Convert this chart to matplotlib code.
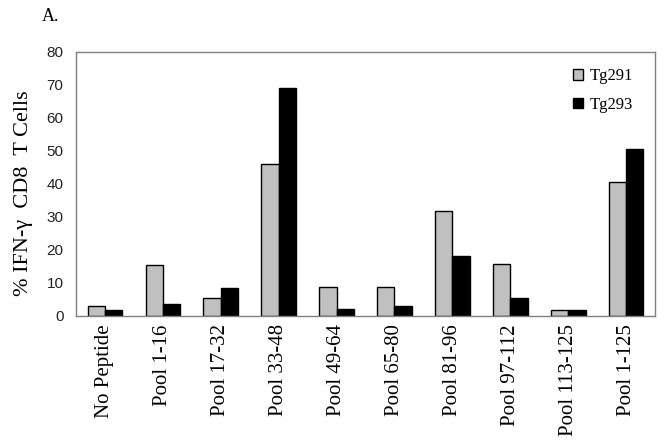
import numpy as np
from matplotlib import pyplot as plt

categorias = ["No Peptide", "Pool 1-16", "Pool 17-32", "Pool 33-48", "Pool 49-64",
              "Pool 65-80", "Pool 81-96", "Pool 97-112", "Pool 113-125", "Pool 1-125"]
tg291 = [2.9, 15.5, 5.4, 46.0, 8.8, 8.8, 31.8, 15.8, 1.7, 40.7]
tg293 = [1.7, 3.7, 8.4, 69.0, 2.0, 3.0, 18.3, 5.4, 1.7, 50.7]
yticks = [0, 10, 20, 30, 40, 50, 60, 70, 80]

serif = "Liberation Serif"
sans = "Liberation Sans"

fig = plt.figure(figsize=(6.64, 4.46), dpi=100)
ax = fig.add_axes([0.1145, 0.2915, 0.872, 0.592])

x = np.arange(len(categorias))
w = 0.3
ax.bar(x - w/2, tg291, w, color="#c0c0c0", edgecolor="black", linewidth=1, label="Tg291")
ax.bar(x + w/2, tg293, w, color="black", edgecolor="black", linewidth=1, label="Tg293")

ax.set_xlim(-0.5, len(categorias) - 0.5)
ax.set_ylim(0, 80)
ax.set_yticks(yticks)
ax.set_yticklabels([str(t) for t in yticks], fontfamily=sans, fontsize=11, color="#222222")
ax.set_xticks(x)
ax.set_xticklabels(categorias, rotation=90, fontfamily=serif, fontsize=15)
ax.tick_params(axis="x", length=0, pad=6)
ax.tick_params(axis="y", length=0, pad=9)

for s in ax.spines.values():
    s.set_color("#808080")
    s.set_linewidth(1)

ax.set_ylabel("% IFN-\u03b3  CD8  T Cells", fontfamily=serif, fontsize=16)
ax.yaxis.set_label_coords(-0.074, 0.466)

leg = ax.legend(loc="upper right", frameon=False, prop={"family": serif, "size": 12},
                handlelength=0.6, handleheight=0.6, handletextpad=0.4, labelspacing=0.75,
                bbox_to_anchor=(0.988, 0.995))

fig.text(0.063, 0.964, "A.", fontfamily=serif, fontsize=13, va="center", ha="left")

fig.savefig("out.png", dpi=100)
